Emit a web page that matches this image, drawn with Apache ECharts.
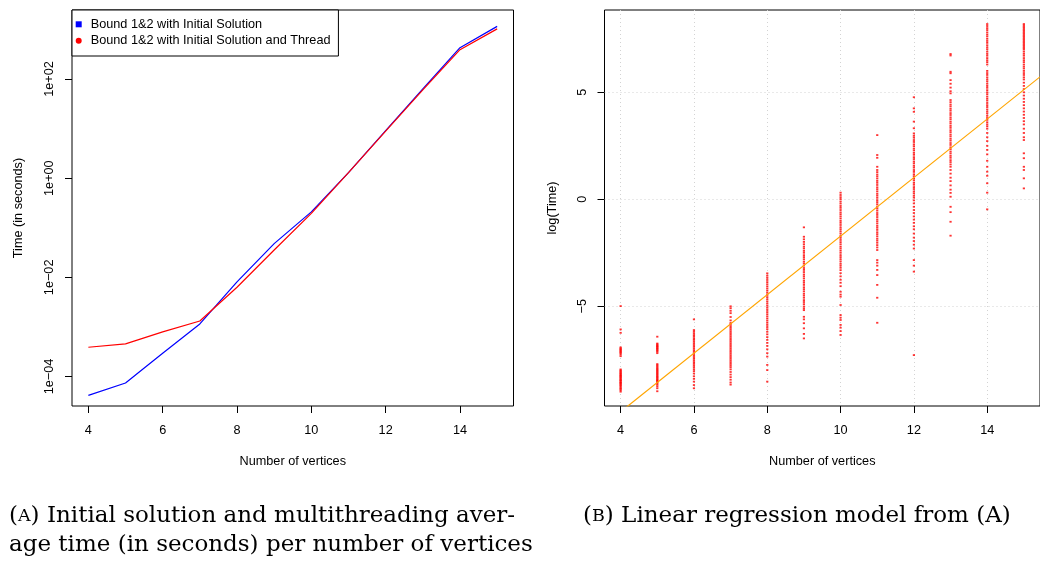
<!DOCTYPE html>
<html><head><meta charset="utf-8">
<script src="https://cdn.jsdelivr.net/npm/echarts@6/dist/echarts.min.js"></script>
<style>html,body{margin:0;padding:0;background:#fff}#c{width:1040px;height:561px}</style>
</head><body><div id="c"></div>
<script>
// ---- data ----
const vertices = [4, 5, 6, 7, 8, 9, 10, 11, 12, 13, 14, 15];
const timeInitialSolution = [4.17e-5, 7.41e-5, 2.95e-4, 1.15e-3, 8.13e-3, 0.0479, 0.209, 1.29, 9.12, 63.1, 427, 1148];
const timeInitialSolutionThread = [3.89e-4, 4.57e-4, 7.94e-4, 1.32e-3, 6.31e-3, 0.0355, 0.195, 1.29, 8.91, 60.3, 389, 1023];

const xTicks = [4, 6, 8, 10, 12, 14];
const leftYTicks = [1e-4, 1e-2, 1, 100];
const leftYTickLabels = ['1e\u221204', '1e\u221202', '1e+00', '1e+02'];
const rightYTicks = [-5, 0, 5];
const rightYTickLabels = ['\u22125', '0', '5'];

// log(Time) observations per number of vertices (panel B)
const logTimeV4 = [-4.99, -6.08, -6.24, -6.92, -6.97, -7.01, -7.05, -7.1, -7.14, -7.19, -7.25, -7.33, -7.95, -8.0, -8.04, -8.09, -8.13, -8.17, -8.22, -8.25, -8.29, -8.33, -8.37, -8.42, -8.45, -8.49, -8.54, -8.58, -8.61, -8.66, -8.7, -8.75, -8.81, -8.86, -8.92, -8.99];
const logTimeV5 = [-6.42, -6.74, -6.78, -6.83, -6.86, -6.9, -6.95, -6.98, -7.03, -7.07, -7.12, -7.19, -7.7, -7.76, -7.81, -7.87, -7.92, -7.97, -8.02, -8.07, -8.12, -8.17, -8.22, -8.27, -8.31, -8.36, -8.41, -8.45, -8.49, -8.54, -8.6, -8.66, -8.74, -8.83, -8.97];
const logTimeV6 = [-5.61, -6.11, -6.19, -6.27, -6.35, -6.42, -6.5, -6.57, -6.65, -6.73, -6.81, -6.89, -6.97, -7.05, -7.13, -7.21, -7.29, -7.37, -7.45, -7.53, -7.61, -7.69, -7.77, -7.85, -7.94, -8.03, -8.14, -8.27, -8.39, -8.52, -8.68, -8.83];
const logTimeV7 = [-5.0, -5.09, -5.21, -5.32, -5.5, -5.66, -5.78, -5.85, -5.93, -6.01, -6.09, -6.17, -6.25, -6.33, -6.41, -6.49, -6.57, -6.65, -6.73, -6.81, -6.89, -6.97, -7.05, -7.13, -7.21, -7.29, -7.37, -7.45, -7.53, -7.61, -7.69, -7.77, -7.85, -7.95, -8.07, -8.19, -8.31, -8.43, -8.56, -8.66];
const logTimeV8 = [-3.46, -3.57, -3.67, -3.77, -3.87, -3.97, -4.07, -4.17, -4.27, -4.37, -4.47, -4.57, -4.67, -4.77, -4.87, -4.97, -5.07, -5.17, -5.27, -5.37, -5.47, -5.57, -5.67, -5.77, -5.87, -5.97, -6.07, -6.19, -6.31, -6.44, -6.57, -6.71, -6.85, -7.01, -7.19, -7.35, -7.74, -7.98, -8.52];
const logTimeV9 = [-1.31, -1.75, -1.87, -1.99, -2.1, -2.21, -2.3, -2.41, -2.5, -2.61, -2.7, -2.8, -2.91, -3.0, -3.1, -3.21, -3.3, -3.4, -3.51, -3.6, -3.7, -3.81, -3.9, -4.0, -4.11, -4.2, -4.3, -4.41, -4.5, -4.6, -4.71, -4.8, -4.9, -5.01, -5.1, -5.18, -5.49, -5.61, -5.79, -6.03, -6.29, -6.5];
const logTimeV10 = [0.31, 0.2, 0.1, 0.01, -0.1, -0.2, -0.31, -0.4, -0.5, -0.61, -0.7, -0.8, -0.9, -1.01, -1.1, -1.2, -1.31, -1.4, -1.5, -1.6, -1.71, -1.8, -1.9, -2.0, -2.1, -2.21, -2.3, -2.4, -2.5, -2.61, -2.7, -2.8, -2.9, -3.01, -3.1, -3.2, -3.31, -3.45, -3.6, -3.76, -3.9, -4.06, -4.32, -4.45, -4.55, -4.94, -5.41, -5.53, -5.64, -5.87, -6.0, -6.16, -6.34];
const logTimeV11 = [3.0, 2.07, 1.94, 1.52, 1.37, 1.27, 1.16, 1.07, 0.97, 0.86, 0.77, 0.67, 0.56, 0.47, 0.37, 0.26, 0.17, 0.07, -0.04, -0.13, -0.23, -0.34, -0.43, -0.53, -0.64, -0.73, -0.83, -0.94, -1.03, -1.13, -1.24, -1.33, -1.43, -1.54, -1.63, -1.73, -1.84, -1.93, -2.03, -2.14, -2.25, -2.37, -2.84, -2.96, -3.1, -3.3, -3.54, -4.0, -4.6, -5.77];
const logTimeV12 = [4.77, 4.25, 4.09, 3.63, 3.32, 3.08, 2.97, 2.88, 2.77, 2.68, 2.57, 2.48, 2.37, 2.28, 2.17, 2.08, 1.97, 1.88, 1.77, 1.68, 1.57, 1.48, 1.37, 1.28, 1.17, 1.08, 0.97, 0.88, 0.77, 0.68, 0.57, 0.48, 0.37, 0.28, 0.17, 0.08, -0.05, -0.19, -0.35, -0.5, -0.64, -0.8, -0.95, -1.1, -1.26, -1.4, -1.6, -1.79, -1.95, -2.12, -2.3, -2.84, -3.1, -3.38, -7.28];
const logTimeV13 = [6.79, 6.72, 5.96, 5.89, 5.57, 5.4, 5.22, 5.05, 4.95, 4.64, 4.54, 4.43, 4.34, 4.23, 4.14, 4.03, 3.94, 3.83, 3.74, 3.63, 3.54, 3.43, 3.34, 3.23, 3.14, 3.03, 2.94, 2.83, 2.74, 2.63, 2.54, 2.43, 2.34, 2.23, 2.14, 2.03, 1.94, 1.83, 1.74, 1.63, 1.52, 1.37, 1.2, 1.01, 0.85, 0.65, 0.45, 0.3, 0.12, -0.35, -0.6, -1.05, -1.7];
const logTimeV14 = [8.19, 8.1, 8.0, 7.91, 7.8, 7.7, 7.61, 7.5, 7.4, 7.31, 7.2, 7.1, 7.01, 6.9, 6.8, 6.71, 6.6, 6.5, 6.41, 6.3, 6.0, 5.9, 5.81, 5.7, 5.6, 5.51, 5.4, 5.3, 5.21, 5.1, 5.0, 4.91, 4.8, 4.7, 4.61, 4.5, 4.4, 4.31, 4.2, 4.1, 4.01, 3.9, 3.8, 3.71, 3.6, 3.5, 3.41, 3.3, 3.1, 2.9, 2.72, 2.5, 2.31, 2.1, 1.8, 1.52, 1.29, 1.1, 0.75, 0.31, -0.47];
const logTimeV15 = [8.19, 8.12, 8.05, 7.98, 7.91, 7.84, 7.77, 7.7, 7.63, 7.56, 7.49, 7.42, 7.35, 7.28, 7.21, 7.14, 7.07, 7.0, 6.9, 6.8, 6.71, 6.6, 6.5, 6.41, 6.3, 6.2, 6.11, 6.0, 5.9, 5.81, 5.7, 5.6, 5.45, 5.3, 5.15, 5.0, 4.85, 4.7, 4.55, 4.4, 4.25, 4.1, 3.95, 3.8, 3.65, 3.5, 3.3, 3.1, 2.9, 2.77, 2.15, 1.92, 1.52, 1.37, 0.98, 0.51];

// fitted linear model log(Time) = intercept + slope * vertices
const regressionIntercept = -15.40;
const regressionSlope = 1.368;

// ---- build ----
const FONT = 'Liberation Sans, Arial, Helvetica, sans-serif';
const SERIF = 'DejaVu Serif, serif';
const FS = 12.7;
const X_MIN = 3.56, X_MAX = 15.44;

const logColumns = [logTimeV4, logTimeV5, logTimeV6, logTimeV7, logTimeV8, logTimeV9, logTimeV10, logTimeV11, logTimeV12, logTimeV13, logTimeV14, logTimeV15];
const scatterData = [];
logColumns.forEach((col, i) => col.forEach(v => scatterData.push([vertices[i], v])));

function nearestLabel(ticks, labels, v, isLog) {
  let best = 0, bd = Infinity;
  ticks.forEach((t, i) => {
    const d = isLog ? Math.abs(Math.log10(t) - Math.log10(v)) : Math.abs(t - v);
    if (d < bd) { bd = d; best = i; }
  });
  return labels[best];
}

function xAxisCfg(gridIndex, grid) {
  return {
    type: 'value', gridIndex, min: X_MIN, max: X_MAX,
    name: 'Number of vertices', nameLocation: 'middle', nameGap: 49,
    nameTextStyle: { fontFamily: FONT, fontSize: FS, color: '#000' },
    axisLine: { show: false, onZero: false },
    axisTick: { show: true, length: 7, customValues: xTicks, lineStyle: { color: '#000', width: 1 } },
    axisLabel: { customValues: xTicks, margin: 18, fontFamily: FONT, fontSize: FS, color: '#000' },
    splitLine: grid ? { show: true, lineStyle: { color: '#d3d3d3', type: [1, 3], width: 1 } } : { show: false }
  };
}

const capRich = {
  p: { fontFamily: SERIF, fontSize: 23, fontWeight: 'normal', lineHeight: 29, color: '#000' },
  s: { fontFamily: SERIF, fontSize: 17.5, fontWeight: 'normal', lineHeight: 29, color: '#000' }
};

const chart = echarts.init(document.getElementById('c'), null, { renderer: 'canvas' });
chart.setOption({
  animation: false,
  backgroundColor: '#fff',
  textStyle: { fontFamily: FONT },
  title: [
    { left: 9, top: 502, padding: 0,
      text: '{p|(}{s|A}{p|) Initial solution and multithreading aver-}\n{p|age time (in seconds) per number of vertices}',
      textStyle: { fontWeight: 'normal', rich: capRich } },
    { left: 583, top: 502, padding: 0,
      text: '{p|(}{s|B}{p|) Linear regression model from (A)}',
      textStyle: { fontWeight: 'normal', rich: capRich } }
  ],
  legend: {
    left: 72, top: 10, orient: 'vertical', selectedMode: false,
    borderColor: '#000', borderWidth: 1, backgroundColor: '#fff',
    padding: [6.3, 7.9, 7.3, 3.7], itemGap: 0.4, itemWidth: 14, itemHeight: 6,
    textStyle: { fontFamily: FONT, fontSize: FS, color: '#000', lineHeight: 16 },
    data: [
      { name: 'Bound 1&2 with Initial Solution', icon: 'path://M0,0L1,0L1,1L0,1Z' },
      { name: 'Bound 1&2 with Initial Solution and Thread', icon: 'circle' }
    ]
  },
  grid: [
    { left: 72, top: 10, width: 441.5, height: 396, show: true, borderColor: '#000', borderWidth: 1 },
    { left: 604.5, top: 10, width: 443, height: 396, show: true, borderColor: '#000', borderWidth: 1 }
  ],
  xAxis: [xAxisCfg(0, false), xAxisCfg(1, true)],
  yAxis: [
    { type: 'log', logBase: 10, gridIndex: 0, min: Math.pow(10, -4.594), max: Math.pow(10, 3.39),
      name: 'Time (in seconds)', nameLocation: 'middle', nameGap: 47,
      nameTextStyle: { fontFamily: FONT, fontSize: FS, color: '#000' },
      axisLine: { show: false, onZero: false },
      axisTick: { show: true, length: 7, customValues: leftYTicks, lineStyle: { color: '#000' } },
      axisLabel: { customValues: leftYTicks, rotate: 90, margin: 16, fontFamily: FONT, fontSize: FS, color: '#000',
        formatter: v => nearestLabel(leftYTicks, leftYTickLabels, v, true) },
      splitLine: { show: false } },
    { type: 'value', gridIndex: 1, min: -9.659, max: 8.846,
      name: 'log(Time)', nameLocation: 'middle', nameGap: 46,
      nameTextStyle: { fontFamily: FONT, fontSize: FS, color: '#000' },
      axisLine: { show: false, onZero: false },
      axisTick: { show: true, length: 7, customValues: rightYTicks, lineStyle: { color: '#000' } },
      axisLabel: { customValues: rightYTicks, rotate: 90, margin: 16, fontFamily: FONT, fontSize: FS, color: '#000',
        formatter: v => nearestLabel(rightYTicks, rightYTickLabels, v, false) },
      splitLine: { show: true, lineStyle: { color: '#d3d3d3', type: [1, 3], width: 1 } } }
  ],
  series: [
    { name: 'Bound 1&2 with Initial Solution', type: 'line', xAxisIndex: 0, yAxisIndex: 0,
      color: '#0000ff', showSymbol: false, symbol: 'none', lineStyle: { color: '#0000ff', width: 1.2 },
      data: vertices.map((v, i) => [v, timeInitialSolution[i]]) },
    { name: 'Bound 1&2 with Initial Solution and Thread', type: 'line', xAxisIndex: 0, yAxisIndex: 0,
      color: '#ff0000', showSymbol: false, symbol: 'none', lineStyle: { color: '#ff0000', width: 1.2 },
      data: vertices.map((v, i) => [v, timeInitialSolutionThread[i]]) },
    { name: 'log(Time)', type: 'scatter', xAxisIndex: 1, yAxisIndex: 1,
      symbol: 'rect', symbolSize: [2.2, 1.8], itemStyle: { color: '#ff0000' }, silent: true,
      data: scatterData },
    { name: 'fit', type: 'line', xAxisIndex: 1, yAxisIndex: 1, showSymbol: false, symbol: 'none', silent: true,
      lineStyle: { color: '#ffa500', width: 1.2 }, clip: true,
      data: [[X_MIN, regressionIntercept + regressionSlope * X_MIN], [X_MAX, regressionIntercept + regressionSlope * X_MAX]] }
  ]
});
</script>
</body></html>
